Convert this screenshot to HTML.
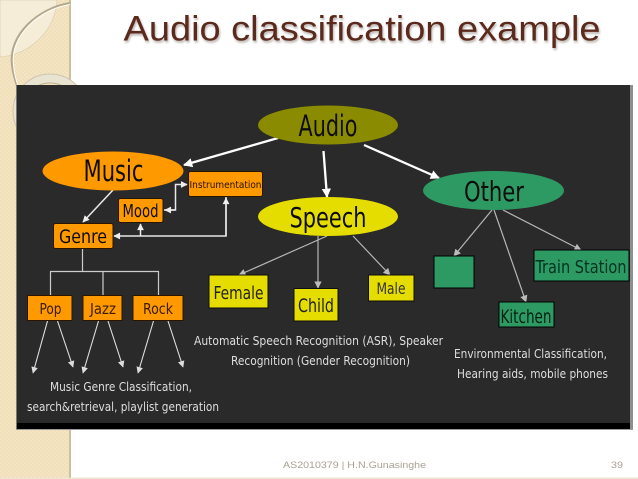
<!DOCTYPE html>
<html><head><meta charset="utf-8"><style>
html,body{margin:0;padding:0;background:#fff;width:638px;height:479px;overflow:hidden}
svg{display:block}
.t{font-family:"DejaVu Sans Condensed","DejaVu Sans",sans-serif;text-anchor:middle;fill:#111}
.w{font-family:"DejaVu Sans Condensed","DejaVu Sans",sans-serif;fill:#ddd;font-size:12.5px;text-anchor:middle}
</style></head><body>
<svg width="638" height="479" viewBox="0 0 638 479" xmlns="http://www.w3.org/2000/svg">
<defs>
<pattern id="ck" width="4" height="4" patternUnits="userSpaceOnUse"><rect width="4" height="4" fill="#f3e5c4"/><rect width="2" height="2" fill="#f0dfb8"/><rect x="2" y="2" width="2" height="2" fill="#f0dfb8"/></pattern>
<marker id="a" viewBox="0 0 10 10" refX="9" refY="5" markerWidth="4" markerHeight="4" orient="auto" markerUnits="strokeWidth"><path d="M0 0L10 5L0 10z" fill="#fff"/></marker>
<marker id="b" viewBox="0 0 10 10" refX="9" refY="5" markerWidth="5" markerHeight="4.5" orient="auto" markerUnits="strokeWidth"><path d="M0 0L10 5L0 10z" fill="#eee"/></marker>
<marker id="d" viewBox="0 0 10 10" refX="9" refY="5" markerWidth="8" markerHeight="6" orient="auto" markerUnits="strokeWidth"><path d="M0 0L10 5L0 10z" fill="#ddd"/></marker>
<marker id="c" viewBox="0 0 10 10" refX="9" refY="5" markerWidth="7" markerHeight="6" orient="auto" markerUnits="strokeWidth"><path d="M0 0L10 5L0 10z" fill="#bbb"/></marker>
<filter id="sh" x="-5%" y="-20%" width="110%" height="150%"><feGaussianBlur stdDeviation="1"/></filter>
<filter id="soft" x="-2%" y="-2%" width="104%" height="104%"><feGaussianBlur stdDeviation="0.3"/></filter>
</defs>

<rect x="0" y="0" width="70" height="478" fill="url(#ck)"/>
<rect x="69" y="0" width="2" height="478" fill="#cdbfa2"/>
<rect x="0" y="477.500" width="638" height="1.500" fill="#efe5cf"/>
<path d="M0 0H57C56 30 30 55 0 57z" fill="#f6edd8" stroke="#dccfb0" stroke-width=".7"/>
<path d="M70 3C38 8 8 35 12 65C13 74 15 80 17 86" fill="none" stroke="#b3a88f" stroke-width="2"/>
<path d="M70 4.500C40 9 10 35 13.500 65C14 72 16 80 18 86" fill="none" stroke="#fffdf5" stroke-width="1"/>
<circle cx="50" cy="111" r="37" fill="#e9e3d2" stroke="#cfc5ac"/>
<circle cx="50" cy="111" r="28" fill="#efe3c2" stroke="#bfb28f"/>

<text x="124.500" y="42.500" font-family="'Liberation Sans',sans-serif" font-size="35.500" fill="#8a7f78" opacity=".6" filter="url(#sh)" textLength="477" lengthAdjust="spacingAndGlyphs">Audio classification example</text>
<text x="123.500" y="40.500" font-family="'Liberation Sans',sans-serif" font-size="35.500" fill="#5b2a1c" textLength="477" lengthAdjust="spacingAndGlyphs">Audio classification example</text>

<rect x="16" y="85" width="614" height="344" fill="#2a2a2a"/>
<rect x="16" y="423" width="614" height="6" fill="#000"/>
<rect x="16" y="85" width="1" height="344" fill="#777"/>
<rect x="630" y="85" width="3" height="344" fill="#8f8f8f"/>
<rect x="16" y="429" width="617" height="1" fill="#999"/>

<g filter="url(#soft)">
<g stroke="#fff" stroke-width="2.300" fill="none">
<line x1="278" y1="138" x2="184" y2="165" marker-end="url(#a)"/>
<line x1="323.500" y1="151" x2="327" y2="197" marker-end="url(#a)"/>
<line x1="364" y1="145" x2="439" y2="178" marker-end="url(#a)"/>
</g>
<g stroke="#e8e8e8" stroke-width="1.500" fill="none">
<line x1="113" y1="190" x2="83" y2="222" marker-end="url(#b)"/>
<path d="M164 210H175.500V184.500H187" marker-end="url(#b)"/>
<path d="M175 210H165" marker-end="url(#b)"/>
<path d="M226 196V236H114" marker-end="url(#b)"/>
<path d="M226 236V198" marker-end="url(#b)"/>
<path d="M140.500 236V224" marker-end="url(#b)"/>
</g>
<g stroke="#ccc" stroke-width="1.200" fill="none">
<path d="M82.500 249V271.500M50.500 295V271.500H158.500V295M103 271.500V295"/>
</g>
<g stroke="#ddd" stroke-width="1.100" fill="none">
<line x1="47.500" y1="321" x2="33" y2="373" marker-end="url(#d)"/>
<line x1="57.500" y1="321" x2="73" y2="367" marker-end="url(#d)"/>
<line x1="98.500" y1="321" x2="83" y2="373" marker-end="url(#d)"/>
<line x1="108" y1="321" x2="123" y2="367" marker-end="url(#d)"/>
<line x1="153.500" y1="321" x2="138" y2="373" marker-end="url(#d)"/>
<line x1="168" y1="321" x2="183" y2="367" marker-end="url(#d)"/>
</g>
<g stroke="#b5b5b5" stroke-width="1.200" fill="none">
<line x1="327" y1="236" x2="239" y2="275" marker-end="url(#c)"/>
<line x1="318" y1="236" x2="318" y2="288" marker-end="url(#c)"/>
<line x1="353" y1="236" x2="390" y2="275" marker-end="url(#c)"/>
<line x1="492" y1="210" x2="454" y2="256" marker-end="url(#c)"/>
<line x1="494" y1="210" x2="526" y2="302" marker-end="url(#c)"/>
<line x1="503" y1="210" x2="581" y2="250" marker-end="url(#c)"/>
</g>

<ellipse cx="328" cy="125" rx="70" ry="19.500" fill="#8b8b00"/>
<ellipse cx="113" cy="171" rx="70.500" ry="19.500" fill="#ff9900"/>
<ellipse cx="328" cy="216.500" rx="70" ry="19.500" fill="#e6dd00"/>
<ellipse cx="493.500" cy="190.500" rx="70.500" ry="19.500" fill="#2f9a64"/>

<g stroke="#2a1500" stroke-width="1" fill="#ff9900">
<rect x="188.500" y="171.500" width="74" height="25" rx="2"/>
<rect x="118.500" y="198.500" width="44.500" height="24" rx="2"/>
<rect x="53.500" y="223.500" width="59.500" height="25" rx="2"/>
<rect x="27.500" y="295.500" width="44.500" height="25"/>
<rect x="83" y="295.500" width="39" height="25"/>
<rect x="133" y="295.500" width="50" height="25"/>
</g>
<g stroke="#111" stroke-width="1" fill="#e6dd00">
<rect x="209" y="275" width="59" height="33"/>
<rect x="294" y="288.500" width="44" height="32.500"/>
<rect x="368.500" y="275" width="45.500" height="26"/>
</g>
<g stroke="#000" stroke-width="1" fill="#2f9a64">
<rect x="434" y="256" width="40" height="32"/>
<rect x="534" y="250" width="95" height="31"/>
<rect x="499" y="302" width="55" height="25"/>
</g>

<text class="t" x="328" y="136" font-size="29" textLength="59" lengthAdjust="spacingAndGlyphs">Audio</text>
<text class="t" x="113.500" y="181" font-size="29" textLength="60" lengthAdjust="spacingAndGlyphs">Music</text>
<text class="t" x="328" y="227" font-size="28" textLength="77" lengthAdjust="spacingAndGlyphs">Speech</text>
<text class="t" x="494" y="201" font-size="28" textLength="60" lengthAdjust="spacingAndGlyphs">Other</text>
<text class="t" x="225.500" y="188" font-size="10" style="fill:#2a1000" textLength="72" lengthAdjust="spacingAndGlyphs">Instrumentation</text>
<text class="t" x="140.500" y="217" font-size="18" textLength="36" lengthAdjust="spacingAndGlyphs">Mood</text>
<text class="t" x="83" y="243" font-size="19" textLength="48" lengthAdjust="spacingAndGlyphs">Genre</text>
<text class="t" x="50.500" y="314" font-size="15" style="fill:#3a1c00" textLength="22" lengthAdjust="spacingAndGlyphs">Pop</text>
<text class="t" x="103" y="314" font-size="15" style="fill:#3a1c00" textLength="26" lengthAdjust="spacingAndGlyphs">Jazz</text>
<text class="t" x="158" y="314" font-size="15" style="fill:#3a1c00" textLength="30" lengthAdjust="spacingAndGlyphs">Rock</text>
<text class="t" x="238.500" y="299" font-size="18" style="fill:#222" textLength="50" lengthAdjust="spacingAndGlyphs">Female</text>
<text class="t" x="316" y="312" font-size="19" style="fill:#222" textLength="36" lengthAdjust="spacingAndGlyphs">Child</text>
<text class="t" x="391" y="294" font-size="16" style="fill:#333" textLength="29" lengthAdjust="spacingAndGlyphs">Male</text>
<text class="t" x="581" y="273" font-size="18" style="fill:#032" textLength="91" lengthAdjust="spacingAndGlyphs">Train Station</text>
<text class="t" x="526" y="323" font-size="19" style="fill:#021" textLength="51" lengthAdjust="spacingAndGlyphs">Kitchen</text>

<text class="w" x="121" y="391" textLength="142" lengthAdjust="spacingAndGlyphs">Music Genre Classification,</text>
<text class="w" x="123" y="411" textLength="192" lengthAdjust="spacingAndGlyphs">search&amp;retrieval, playlist generation</text>
<text class="w" x="318.500" y="345" textLength="249" lengthAdjust="spacingAndGlyphs">Automatic Speech Recognition (ASR), Speaker</text>
<text class="w" x="320.500" y="365" textLength="179" lengthAdjust="spacingAndGlyphs">Recognition (Gender Recognition)</text>
<text class="w" x="530.500" y="358" textLength="153" lengthAdjust="spacingAndGlyphs">Environmental Classification,</text>
<text class="w" x="532.500" y="378" textLength="151" lengthAdjust="spacingAndGlyphs">Hearing aids, mobile phones</text>
</g>

<text x="283" y="468" font-family="'Liberation Sans',sans-serif" font-size="9.500" fill="#a9a294" textLength="143" lengthAdjust="spacingAndGlyphs">AS2010379 | H.N.Gunasinghe</text>
<text x="611" y="468" font-family="'Liberation Sans',sans-serif" font-size="9.500" fill="#a9a294" textLength="12" lengthAdjust="spacingAndGlyphs">39</text>
</svg>
</body></html>
